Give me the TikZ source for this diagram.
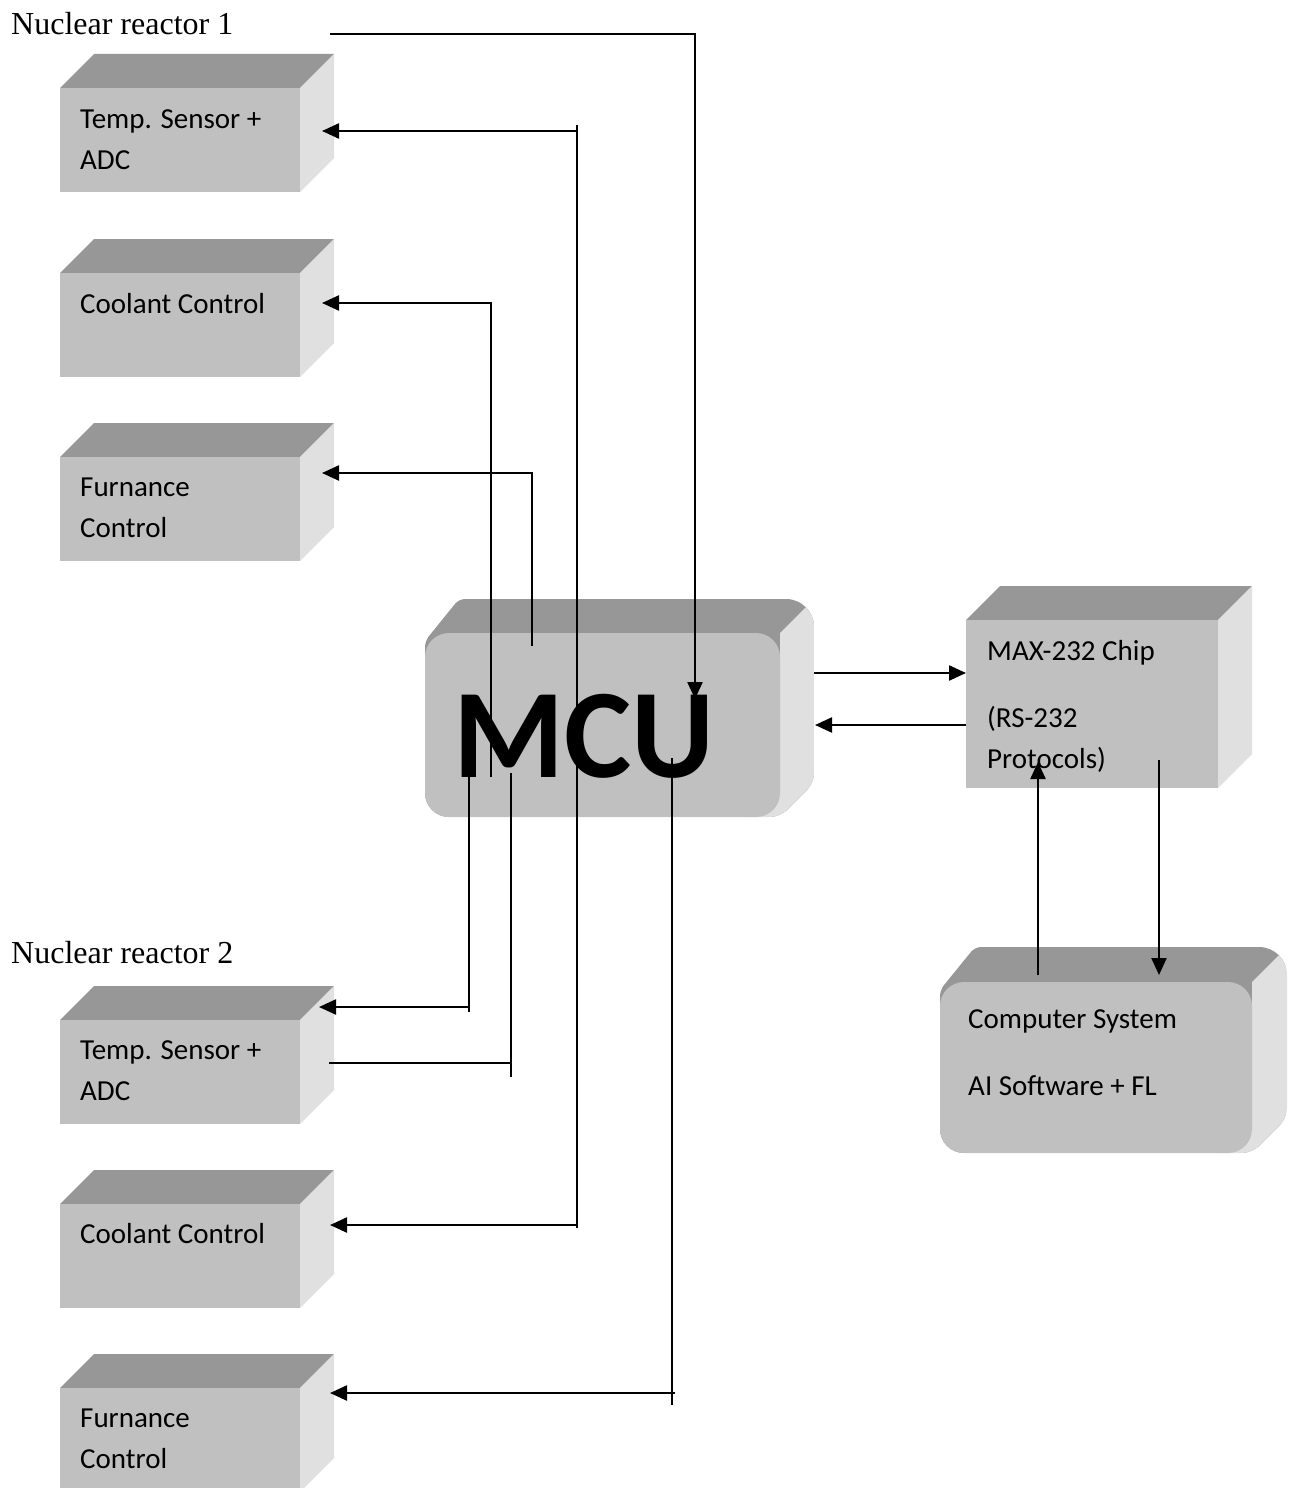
\documentclass[tikz,border=0pt]{standalone}
\usepackage{fontspec}
\setmainfont{Carlito}
\newfontfamily\timesf{Liberation Serif}
\usetikzlibrary{arrows.meta}
\definecolor{frontc}{HTML}{C0C0C0}
\definecolor{topc}{HTML}{979797}
\definecolor{sidec}{HTML}{E0E0E0}
\tikzset{
  frontface/.style={fill=frontc, draw=none, inner sep=0pt, outer sep=0pt},
  lbl/.style={anchor=base west, inner sep=0pt, font=\fontsize{29}{41}\selectfont},
  titletxt/.style={anchor=base west, inner sep=0pt, font=\timesf\fontsize{32}{38}\selectfont},
  wire/.style={line width=2.3pt, black},
  arr/.style={wire, -{Triangle[length=17pt,width=15pt]}},
}
% name, x, y (front top-left), width, height, depth
\newcommand\cubebox[6]{%
  \fill[topc] (#2,#3) -- ++(#6,-#6) -- ++(#4,0) -- ++(-#6,#6) -- cycle;
  \fill[sidec] ({#2+#4},#3) -- ++(#6,-#6) -- ++(0,#5) -- ++(-#6,#6) -- cycle;
  \node[frontface, minimum width=#4pt, minimum height=#5pt, anchor=north west] (#1) at (#2,#3) {};
}
\newcommand\roundbox[6]{%
  \begin{scope}
    \clip (#2,{#3+#5/2}) [rounded corners=6pt] -- (#2,{#3+8}) -- ({#2+#6},{#3-#6})
      [rounded corners=28pt] -- ({#2+#4+#6},{#3-#6})
      [rounded corners=10pt] -- ({#2+#4+#6},{#3+#5-#6}) -- ({#2+#4},{#3+#5})
      [rounded corners=24pt] -- (#2,{#3+#5}) -- cycle;
    \fill[topc] (#2,{#3-#6}) rectangle ({#2+#4+#6},{#3+#5});
    \fill[sidec] ({#2+#4},#3) -- ++(#6,-#6) -- ++(0,{#5+#6+5}) -- ++({-#6-30},0)
      -- ++(0,{-#5/2}) -- ({#2+#4},{#3+#5/2}) -- cycle;
  \end{scope}
  \node[frontface, rounded corners=24pt, minimum width=#4pt, minimum height=#5pt, anchor=north west] (#1) at (#2,#3) {};
}
\begin{document}
\begin{tikzpicture}[x=1pt,y=-1pt]
\useasboundingbox (0,0) rectangle (1288,1488);
\clip (0,0) rectangle (1288,1488);
\fill[white] (0,0) rectangle (1288,1488);

% titles
\node[titletxt] (nr1) at (11,35) {Nuclear reactor 1};
\node[titletxt] (nr2) at (11,963) {Nuclear reactor 2};

% reactor 1 boxes
\cubebox{ts1}{60}{88}{240}{104}{34}
\cubebox{cc1}{60}{273}{240}{104}{34}
\cubebox{fc1}{60}{457}{240}{104}{34}
% reactor 2 boxes
\cubebox{ts2}{60}{1020}{240}{104}{34}
\cubebox{cc2}{60}{1204}{240}{104}{34}
\cubebox{fc2}{60}{1388}{240}{104}{34}
% MAX-232
\cubebox{max}{966}{620}{252}{168}{34}
% MCU and computer
\roundbox{mcu}{425}{633}{355}{184}{34}
\roundbox{pc}{940}{982}{312}{171}{35}

% labels
\node[lbl] (ts1t) at (80,128) {\begin{tabular}[t]{@{}l@{}}Temp. Sensor +\\ADC\end{tabular}};
\node[lbl] (cc1t) at (80,313) {Coolant Control};
\node[lbl] (fc1t) at (80,496) {\begin{tabular}[t]{@{}l@{}}Furnance\\Control\end{tabular}};
\node[lbl] (ts2t) at (80,1059) {\begin{tabular}[t]{@{}l@{}}Temp. Sensor +\\ADC\end{tabular}};
\node[lbl] (cc2t) at (80,1243) {Coolant Control};
\node[lbl] (fc2t) at (80,1427) {\begin{tabular}[t]{@{}l@{}}Furnance\\Control\end{tabular}};
\node[lbl] (maxt) at (987,660) {\begin{tabular}[t]{@{}l@{}}MAX-232 Chip\\[26pt](RS-232\\Protocols)\end{tabular}};
\node[lbl] (pct) at (968,1028) {\begin{tabular}[t]{@{}l@{}}Computer System\\[26pt]AI Software + FL\end{tabular}};
\node[anchor=base, inner sep=0pt, font=\bfseries\fontsize{127}{127}\selectfont] (mcut) at (584,777) {MCU};

% connector points
\coordinate (a0) at (330,34);
\coordinate (a1) at (695,34);
\coordinate (a2) at (695,699);
\coordinate (b0) at (577,125);
\coordinate (b1) at (577,131);
\coordinate (b2) at (322,131);
\coordinate (b3) at (577,1228);
\coordinate (b4) at (577,1225);
\coordinate (b5) at (330,1225);
\coordinate (c0) at (491,777);
\coordinate (c1) at (491,303);
\coordinate (c2) at (322,303);
\coordinate (d0) at (532,646);
\coordinate (d1) at (532,473);
\coordinate (d2) at (322,473);
\coordinate (e0) at (469,773);
\coordinate (e1) at (469,1012);
\coordinate (e2) at (469,1007);
\coordinate (e3) at (319,1007);
\coordinate (f0) at (511,773);
\coordinate (f1) at (511,1077);
\coordinate (f2) at (511,1063);
\coordinate (f3) at (329,1063);
\coordinate (g0) at (672,758);
\coordinate (g1) at (672,1405);
\coordinate (g2) at (675,1393);
\coordinate (g3) at (330,1393);
\coordinate (h0) at (814,673);
\coordinate (h1) at (966,673);
\coordinate (i0) at (966,725);
\coordinate (i1) at (815,725);
\coordinate (j0) at (1038,975);
\coordinate (j1) at (1038,762);
\coordinate (k0) at (1159,760);
\coordinate (k1) at (1159,975);

% connectors
\draw[arr] (a0) -- (a1) -- (a2);
\draw[wire] (b0) -- (b3);
\draw[arr] (b1) -- (b2);
\draw[arr] (b4) -- (b5);
\draw[arr] (c0) -- (c1) -- (c2);
\draw[arr] (d0) -- (d1) -- (d2);
\draw[wire] (e0) -- (e1);
\draw[arr] (e2) -- (e3);
\draw[wire] (f0) -- (f1);
\draw[wire] (f2) -- (f3);
\draw[wire] (g0) -- (g1);
\draw[arr] (g2) -- (g3);
\draw[arr] (h0) -- (h1);
\draw[arr] (i0) -- (i1);
\draw[arr] (j0) -- (j1);
\draw[arr] (k0) -- (k1);
\end{tikzpicture}
\end{document}
